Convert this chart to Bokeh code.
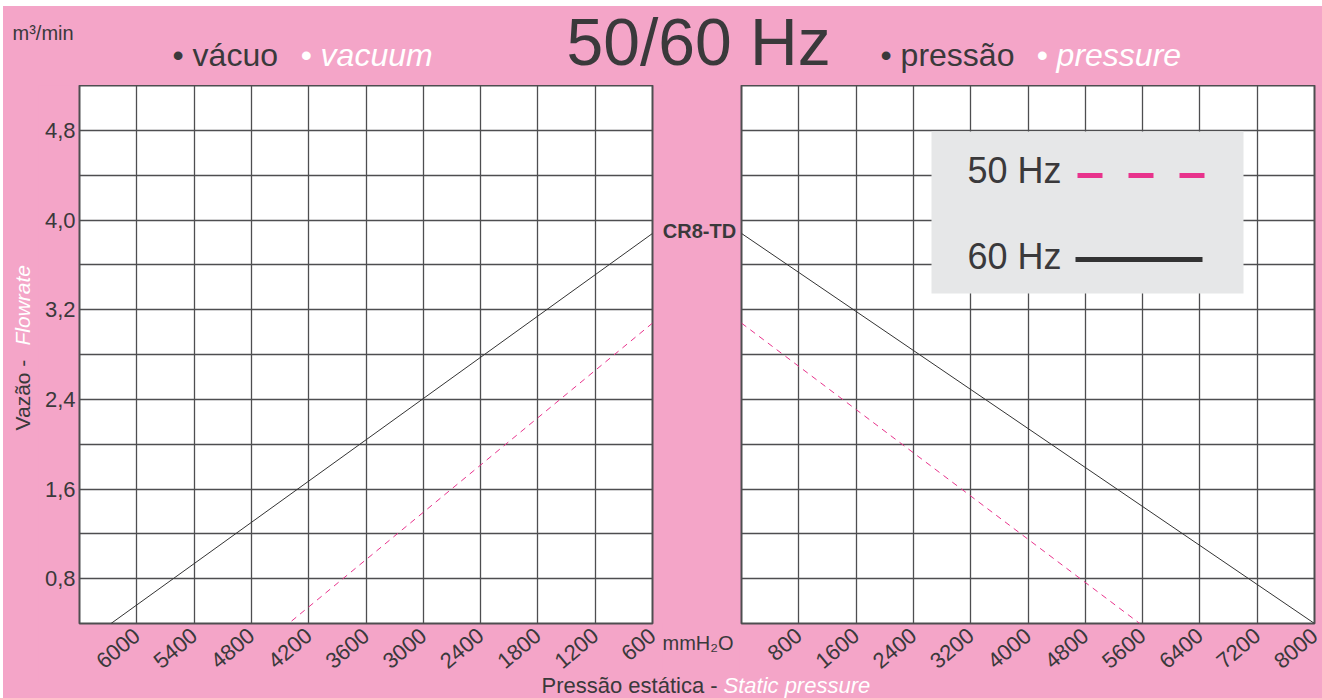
import math
from bokeh.plotting import figure
from bokeh.layouts import column, row
from bokeh.models import (Range1d, FixedTicker, CustomJSTickFormatter, Label,
                          BoxAnnotation, Arrow)
from bokeh.embed import file_html
from bokeh.resources import INLINE

# ---------------- data ----------------
# vacuum side (left panel), x axis reversed
vac_pressure_60 = [600, 6270]
vac_flow_60 = [3.88, 0.40]
vac_pressure_50 = [600, 4410]
vac_flow_50 = [3.08, 0.40]
# pressure side (right panel)
pre_pressure_60 = [0, 8000]
pre_flow_60 = [3.88, 0.40]
pre_pressure_50 = [0, 5560]
pre_flow_50 = [3.08, 0.40]

vac_ticks = [600, 1200, 1800, 2400, 3000, 3600, 4200, 4800, 5400, 6000]
pre_ticks = [800, 1600, 2400, 3200, 4000, 4800, 5600, 6400, 7200, 8000]
flow_ticks = [0.8, 1.6, 2.4, 3.2, 4.0, 4.8]
flow_grid = [0.8, 1.2, 1.6, 2.0, 2.4, 2.8, 3.2, 3.6, 4.0, 4.4, 4.8]
vac_limits = (6600, 600)
pre_limits = (0, 8000)
flow_limits = (0.4, 5.2)

# ---------------- styles ----------------
PINK = "#f4a5c8"
DARK = "#3a393b"
GRID = "#4e4e50"
MAG = "#e8338c"
LEGBG = "#e6e7e8"
FONT = "Liberation Sans"

FRAME_W, FRAME_H = 573, 538
TOP_H = 79
BOTTOM_B = 60
ROW_H = FRAME_H + BOTTOM_B
BOTTOM_H = 68
BOTTOM_OVERLAP = TOP_H + ROW_H + BOTTOM_H - 692


def style_x(p, ticks):
    ax = p.xaxis[0]
    ax.ticker = FixedTicker(ticks=ticks)
    ax.axis_line_color = None
    ax.major_tick_line_color = None
    ax.minor_tick_line_color = None
    ax.major_tick_out = 0
    ax.major_tick_in = 0
    ax.major_label_orientation = 0.70
    ax.major_label_standoff = 9
    ax.major_label_text_font = FONT
    ax.major_label_text_font_size = "22px"
    ax.major_label_text_color = DARK
    p.xgrid[0].ticker = FixedTicker(ticks=ticks)
    p.ygrid[0].ticker = FixedTicker(ticks=flow_grid)
    for g in (p.xgrid[0], p.ygrid[0]):
        g.grid_line_color = GRID
        g.grid_line_width = 1.3


def base_fig(x_limits, **kw):
    return figure(frame_width=FRAME_W, frame_height=FRAME_H,
                  x_range=Range1d(*x_limits), y_range=Range1d(*flow_limits),
                  output_backend="svg", toolbar_location=None,
                  background_fill_color="white", border_fill_color=PINK,
                  outline_line_color=GRID, outline_line_width=2,
                  min_border_top=0, min_border_bottom=BOTTOM_B, **kw)


def strip(w, h, transparent=False, **kw):
    s = figure(width=w, height=h, x_range=Range1d(0, 1), y_range=Range1d(0, 1),
               output_backend="svg", toolbar_location=None,
               x_axis_location=None, y_axis_location=None,
               background_fill_color=PINK, border_fill_color=PINK,
               outline_line_color=None, min_border=0, **kw)
    if transparent:
        s.background_fill_alpha = 0
        s.border_fill_alpha = 0
    s.grid.visible = False
    return s


def lab(fig, x, y, text, size, color=DARK, style="normal", align="left", angle=0):
    fig.add_layout(Label(x=x, y=y, x_units="screen", y_units="screen", text=text,
                         text_font=FONT, text_font_size=size, text_color=color,
                         text_font_style=style, text_align=align, angle=angle,
                         text_baseline="middle"))


# ---------------- left panel: vacuum ----------------
left = base_fig(vac_limits, min_border_left=41, min_border_right=10)
style_x(left, vac_ticks)
ay = left.yaxis[0]
ay.ticker = FixedTicker(ticks=flow_ticks)
ay.formatter = CustomJSTickFormatter(code="return tick.toFixed(1).replace('.', ',');")
ay.axis_line_color = None
ay.major_tick_line_color = None
ay.minor_tick_line_color = None
ay.major_tick_out = 0
ay.major_tick_in = 0
ay.major_label_standoff = 4
ay.major_label_text_font = FONT
ay.major_label_text_font_size = "22px"
ay.major_label_text_color = DARK

left.line(vac_pressure_60, vac_flow_60, line_color="#333333", line_width=1)
left.line(vac_pressure_50, vac_flow_50, line_color=MAG, line_width=1, line_dash="6 5")

# ---------------- right panel: pressure ----------------
right = base_fig(pre_limits, min_border_left=2, min_border_right=8, y_axis_location=None)
style_x(right, pre_ticks)
right.line(pre_pressure_60, pre_flow_60, line_color="#333333", line_width=1)
right.line(pre_pressure_50, pre_flow_50, line_color=MAG, line_width=1, line_dash="6 5")

# legend box
right.add_layout(BoxAnnotation(left=190, right=502, bottom=330, top=492,
                               left_units="screen", right_units="screen",
                               bottom_units="screen", top_units="screen",
                               fill_color=LEGBG, fill_alpha=1, line_color=None))
lab(right, 226, 453, "50 Hz", "36px")
lab(right, 226, 367, "60 Hz", "36px")
right.add_layout(Arrow(x_start=336, y_start=448, x_end=464, y_end=448,
                       start_units="screen", end_units="screen", start=None, end=None,
                       line_color=MAG, line_width=5, line_dash="25 26"))
right.add_layout(Arrow(x_start=334, y_start=364, x_end=461, y_end=364,
                       start_units="screen", end_units="screen", start=None, end=None,
                       line_color="#333333", line_width=5))

# ---------------- side strips (frames align with the plot frames) ----------------
vfig = strip(35, ROW_H)
lab(vfig, 19, 193, "Vazão - ", "21px", angle=math.pi / 2)
lab(vfig, 19, 278, "Flowrate", "21px", color="white", style="italic", angle=math.pi / 2)

mid = strip(77, ROW_H)
lab(mid, 37, 393, "CR8-TD", "20px", style="bold", align="center")

# ---------------- top strip ----------------
top = strip(1319, TOP_H)
lab(top, 9, 53, "m³/min", "20px")
lab(top, 169, 31, "• vácuo", "32px")
lab(top, 297, 31, "• vacuum", "32px", color="white", style="italic")
lab(top, 563, 44, "50/60 Hz", "66px")
lab(top, 877, 31, "• pressão", "32px")
lab(top, 1033, 31, "• pressure", "32px", color="white", style="italic")

# ---------------- bottom strip (transparent, overlapping the axis area) ----------------
bottom = strip(1319, BOTTOM_H, transparent=True, margin=(-BOTTOM_OVERLAP, 0, 0, 0))
lab(bottom, 659, 56, "mmH₂O", "20px")
lab(bottom, 538, 12.6, "Pressão estática - ", "22px")
lab(bottom, 720, 12.6, "Static pressure", "22px", color="white", style="italic")

bg = {"background-color": PINK}
layout = column(top, row(vfig, left, mid, right, styles=bg), bottom,
                styles=bg, margin=(6, 0, 0, 3))
open("out.html", "w").write(file_html(layout, INLINE))
